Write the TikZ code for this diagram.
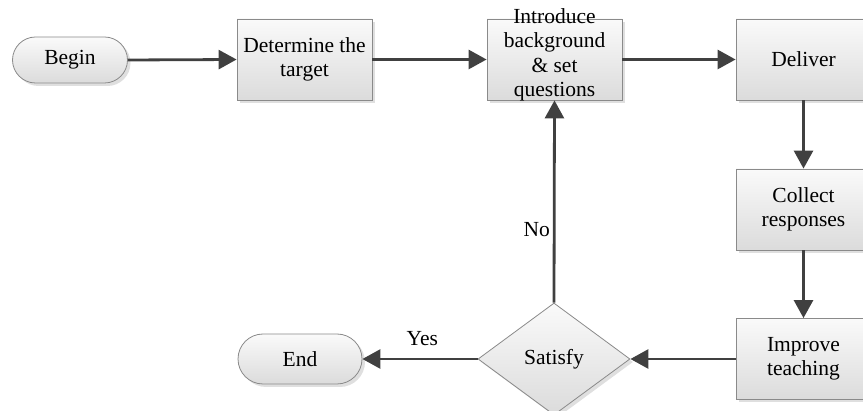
\documentclass[tikz,border=0pt]{standalone}
\usepackage{fontspec}
\setmainfont{Liberation Serif}
\usetikzlibrary{arrows.meta,shapes.misc,shapes.geometric,shadows}
\definecolor{arrowc}{HTML}{404040}
\definecolor{edgec}{HTML}{8A8A8A}
\begin{document}
\begin{tikzpicture}[x=1pt,y=-1pt,
  base/.style={draw=edgec, line width=0.8pt, top color=white!98!black, bottom color=white!86!black,
    drop shadow={opacity=0.25, shadow xshift=3pt, shadow yshift=-3pt}, inner sep=0pt,
    font=\fontsize{21.5}{24.5}\selectfont, align=center},
  procbox/.style={base, rectangle, minimum width=135pt, minimum height=81pt},
  terminal/.style={base, rounded rectangle, rounded rectangle arc length=180},
  decision/.style={base, diamond, minimum width=152pt, minimum height=112pt},
  txt/.style={font=\fontsize{21.5}{24.5}\selectfont, align=center, inner sep=0pt},
  flow/.style={draw=arrowc, line width=2.8pt, -{Triangle[length=18pt,width=19pt]}}
]
\useasboundingbox (0,0) rectangle (863,411);
\begin{scope}
\clip (0,0) rectangle (863,411);
\node[terminal, minimum width=115pt, minimum height=46pt] (begin) at (70,60) {Begin};
\node[procbox] (target) at (304.5,59.5) {Determine the\\target};
\node[procbox] (intro) at (554.5,59.5) {};
\node[txt] (introtext) at (554.5,55) {Introduce\\background\\\& set\\questions};
\node[procbox] (deliver) at (803.5,59.5) {Deliver};
\node[procbox] (collect) at (803.5,209.5) {Collect\\responses};
\node[procbox] (improve) at (803.5,359) {Improve\\teaching};
\node[decision] (satisfy) at (554,359) {Satisfy};
\node[terminal, minimum width=124pt, minimum height=50pt] (end) at (300,359) {End};

\draw[flow] (begin.east) -- (target.west);
\draw[flow] (target.east) -- (intro.west);
\draw[flow] (intro.east) -- (deliver.west);
\draw[flow] (deliver.south) -- (collect.north);
\draw[flow] (collect.south) -- (improve.north);
\draw[flow] (improve.west) -- (satisfy.east);
\draw[flow] (satisfy.west) -- node[txt, above=12pt, pos=0.48] (yes) {Yes} (end.east);
\draw[flow] (satisfy.north) -- node[txt, left=3pt, pos=0.36] (no) {No} (intro.south);
\end{scope}
\end{tikzpicture}
\end{document}
